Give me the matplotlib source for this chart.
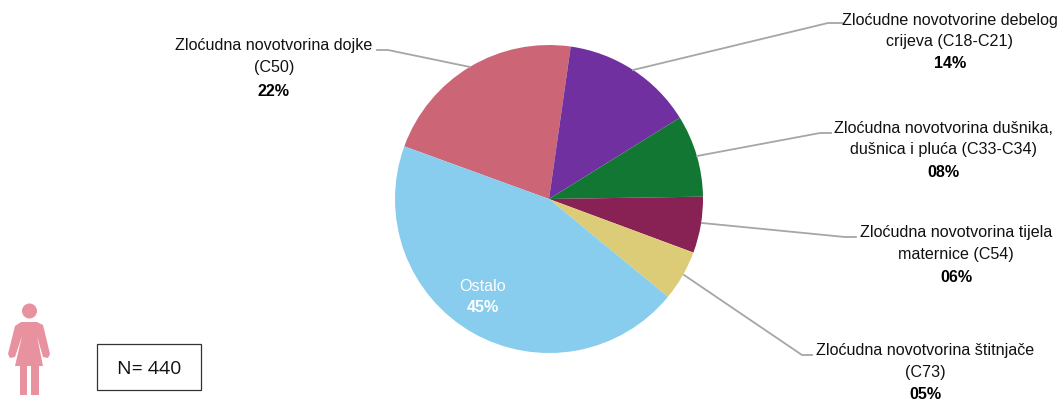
import matplotlib
matplotlib.use('Agg')
import matplotlib.pyplot as plt
from matplotlib.patches import Rectangle, Circle, Polygon

plt.rcParams['font.family'] = ['Liberation Sans', 'DejaVu Sans']

categories = [
    'Zloćudna novotvorina dojke\n(C50)',
    'Zloćudne novotvorine debelog\ncrijeva (C18-C21)',
    'Zloćudna novotvorina dušnika,\ndušnica i pluća (C33-C34)',
    'Zloćudna novotvorina tijela\nmaternice (C54)',
    'Zloćudna novotvorina štitnjače\n(C73)',
    'Ostalo',
]
# the printed labels are rounded
values = [21.7, 13.9, 8.6, 5.9, 5.3, 44.6]
value_labels = ['22%', '14%', '08%', '06%', '05%', '45%']
colors = ['#CC6677', '#7030A0', '#117733', '#882255', '#DDCC77', '#88CCEE']
total_label = 'N= 440'

W, H = 1063, 402
fig = plt.figure(figsize=(W / 100, H / 100), dpi=100)

cx, cy, r = 549, 200, 154

# pie goes first so the overlay with the texts stays on top
pie_ax = fig.add_axes([(cx - r) / W, 1 - (cy + r) / H, 2 * r / W, 2 * r / H])
pie_ax.pie(values, colors=colors, startangle=160, counterclock=False, radius=1,
           wedgeprops={'linewidth': 0})
pie_ax.set_xlim(-1, 1)
pie_ax.set_ylim(-1, 1)

ax = fig.add_axes([0, 0, 1, 1])
ax.set_xlim(0, W)
ax.set_ylim(H, 0)
ax.axis('off')
ax.patch.set_alpha(0)

# leader lines
line_col = '#A6A6A6'
ax.plot([470, 388, 377], [68, 51, 51], color=line_col, lw=1.3)
ax.plot([633, 828, 842], [71, 24, 24], color=line_col, lw=1.3)
ax.plot([697, 820, 831], [157, 134, 134], color=line_col, lw=1.3)
ax.plot([702, 845, 856], [224, 238, 238], color=line_col, lw=1.3)
ax.plot([684, 802, 812], [276, 356, 356], color=line_col, lw=1.3)

fs = 11.6
txt_col = '#111111'
spacing = 1.55
ax.text(274, 56.5, categories[0], ha='center', va='center', fontsize=fs, color=txt_col, linespacing=spacing)
ax.text(274, 91, value_labels[0], ha='center', va='center', fontsize=fs, fontweight='bold')
ax.text(950, 31, categories[1], ha='center', va='center', fontsize=fs, color=txt_col, linespacing=spacing)
ax.text(950, 64, value_labels[1], ha='center', va='center', fontsize=fs, fontweight='bold')
ax.text(943, 139, categories[2], ha='center', va='center', fontsize=fs, color=txt_col, linespacing=spacing)
ax.text(943, 173, value_labels[2], ha='center', va='center', fontsize=fs, fontweight='bold')
ax.text(956, 243.5, categories[3], ha='center', va='center', fontsize=fs, color=txt_col, linespacing=spacing)
ax.text(956, 278, value_labels[3], ha='center', va='center', fontsize=fs, fontweight='bold')
ax.text(925, 361.5, categories[4], ha='center', va='center', fontsize=fs, color=txt_col, linespacing=spacing)
ax.text(925, 394.5, value_labels[4], ha='center', va='center', fontsize=fs, fontweight='bold')
ax.text(483, 287, categories[5], ha='center', va='center', fontsize=fs, color='white')
ax.text(483, 308, value_labels[5], ha='center', va='center', fontsize=fs, color='white', fontweight='bold')

# N box
ax.add_patch(Rectangle((97, 345), 104, 46, fc='white', ec='#333333', lw=0.9))
ax.text(149, 369, total_label, ha='center', va='center', fontsize=14, family='Open Sans', color='#111111')

# woman icon
pink = '#E8919F'
ax.add_patch(Circle((29.5, 312), 7.5, fc=pink, ec='none'))
body = [(21, 323), (37, 323), (43, 326), (50, 355), (48, 359), (43, 358), (37, 337),
        (43, 367), (39, 367), (39, 396), (31, 396), (31, 367), (27, 367), (27, 396),
        (20, 396), (20, 367), (15, 367), (22, 337), (15, 358), (10, 359), (8, 355), (15, 327)]
ax.add_patch(Polygon(body, fc=pink, ec='none'))

fig.savefig('out.png', dpi=100)
